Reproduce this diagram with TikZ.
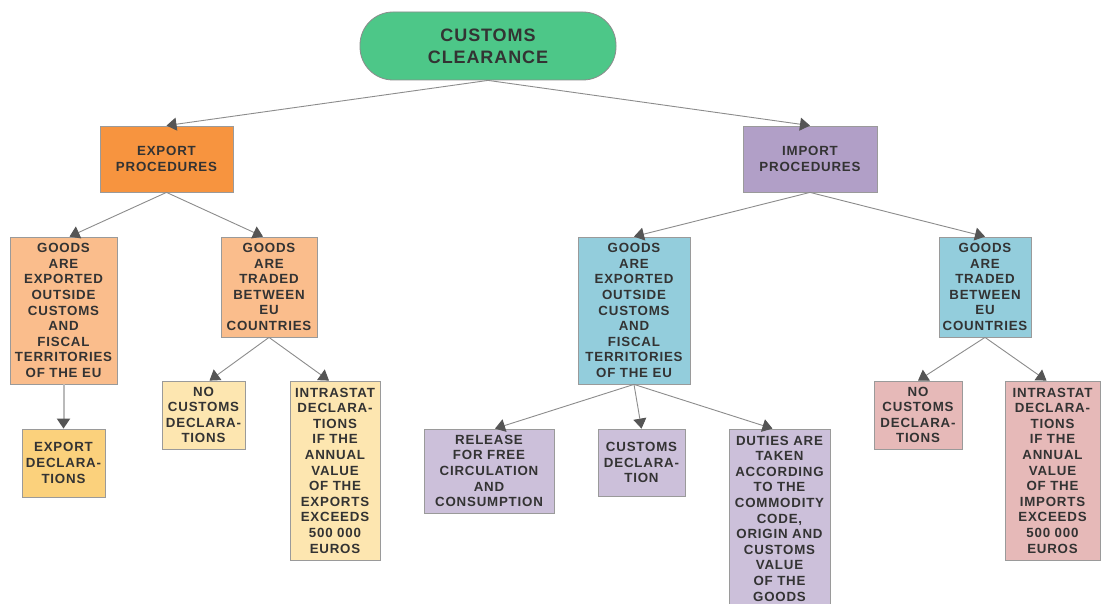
\documentclass[tikz,border=0pt]{standalone}
\usepackage{fontspec}
\setmainfont{Liberation Sans}
\usetikzlibrary{arrows.meta}
\definecolor{cRoot}{HTML}{4DC788}
\definecolor{cExp}{HTML}{F7943F}
\definecolor{cImp}{HTML}{B19FC7}
\definecolor{cE}{HTML}{FABD8C}
\definecolor{cEa}{HTML}{FBD17C}
\definecolor{cEb}{HTML}{FDE6B0}
\definecolor{cI}{HTML}{93CDDC}
\definecolor{cIa}{HTML}{CCC0DA}
\definecolor{cIb}{HTML}{E6B9B8}
\definecolor{txt}{HTML}{333333}
\definecolor{bord}{HTML}{9A9A9A}
\definecolor{linegray}{HTML}{8C8C8C}
\definecolor{tipgray}{HTML}{555555}
\begin{document}
\begin{tikzpicture}[x=1pt,y=-1pt,
  bx/.style={draw=bord, line width=0.8pt, align=center, inner sep=1pt, text=txt,
    font=\fontsize{13.3}{15.6}\selectfont\bfseries\addfontfeatures{LetterSpace=6}},
  arr/.style={draw=linegray, line width=0.9pt, -{Triangle[length=10pt,width=13pt,color=tipgray]}},
  varr/.style={draw=linegray!60, line width=2pt, -{Triangle[length=10pt,width=13pt,color=tipgray]}}
]
\clip (0,0) rectangle (1101,604);
\fill[white] (0,0) rectangle (1101,604);

\node[bx, draw=linegray, fill=cRoot, minimum width=256pt, minimum height=68pt, rounded corners=33pt,
  font=\fontsize{18}{22}\selectfont\bfseries\addfontfeatures{LetterSpace=5}] (root) at (488,46) {CUSTOMS\\CLEARANCE};

\node[bx, fill=cExp, minimum width=133pt, minimum height=66pt] (exp) at (166.5,159) {EXPORT\\PROCEDURES};
\node[bx, fill=cImp, minimum width=134pt, minimum height=66pt] (imp) at (810,159) {IMPORT\\PROCEDURES};

\node[bx, fill=cE, minimum width=107pt, minimum height=147pt] (E1) at (63.5,310.5)
  {GOODS\\ARE\\EXPORTED\\OUTSIDE\\CUSTOMS\\AND\\FISCAL\\TERRITORIES\\OF THE EU};
\node[bx, fill=cE, minimum width=96pt, minimum height=100pt] (E2) at (269,287)
  {GOODS\\ARE\\TRADED\\BETWEEN\\EU\\COUNTRIES};
\node[bx, fill=cEa, minimum width=83pt, minimum height=68pt] (E1a) at (63.5,463)
  {EXPORT\\DECLARA-\\TIONS};
\node[bx, fill=cEb, minimum width=83pt, minimum height=68pt] (E2a) at (203.5,415)
  {NO\\CUSTOMS\\DECLARA-\\TIONS};
\node[bx, fill=cEb, minimum width=90pt, minimum height=179pt] (E2b) at (335,470.5)
  {INTRASTAT\\DECLARA-\\TIONS\\IF THE\\ANNUAL\\VALUE\\OF THE\\EXPORTS\\EXCEEDS\\500 000\\EUROS};

\node[bx, fill=cI, minimum width=112pt, minimum height=147pt] (I1) at (634,310.5)
  {GOODS\\ARE\\EXPORTED\\OUTSIDE\\CUSTOMS\\AND\\FISCAL\\TERRITORIES\\OF THE EU};
\node[bx, fill=cI, minimum width=92pt, minimum height=100pt] (I2) at (985,287)
  {GOODS\\ARE\\TRADED\\BETWEEN\\EU\\COUNTRIES};
\node[bx, fill=cIa, minimum width=130pt, minimum height=84pt] (I1a) at (489,471)
  {RELEASE\\FOR FREE\\CIRCULATION\\AND\\CONSUMPTION};
\node[bx, fill=cIa, minimum width=87pt, minimum height=67pt] (I1b) at (641.5,462.5)
  {CUSTOMS\\DECLARA-\\TION};
\node[bx, fill=cIa, minimum width=101pt, minimum height=179pt] (I1c) at (779.5,518.5)
  {DUTIES ARE\\TAKEN\\ACCORDING\\TO THE\\COMMODITY\\CODE,\\ORIGIN AND\\CUSTOMS\\VALUE\\OF THE\\GOODS};
\node[bx, fill=cIb, minimum width=88pt, minimum height=68pt] (I2a) at (918,415)
  {NO\\CUSTOMS\\DECLARA-\\TIONS};
\node[bx, fill=cIb, minimum width=95pt, minimum height=179pt] (I2b) at (1052.5,470.5)
  {INTRASTAT\\DECLARA-\\TIONS\\IF THE\\ANNUAL\\VALUE\\OF THE\\IMPORTS\\EXCEEDS\\500 000\\EUROS};

\draw[arr] (root.south) -- (exp.north);
\draw[arr] (root.south) -- (imp.north);
\draw[arr] (exp.south) -- ([xshift=6pt]E1.north);
\draw[arr] (exp.south) -- ([xshift=-6pt]E2.north);
\draw[varr] (E1.south) -- (E1a.north);
\draw[arr] (E2.south) -- ([xshift=6pt]E2a.north);
\draw[arr] (E2.south) -- ([xshift=-6pt]E2b.north);
\draw[arr] (imp.south) -- (I1.north);
\draw[arr] (imp.south) -- (I2.north);
\draw[arr] (I1.south) -- ([xshift=6pt]I1a.north);
\draw[arr] (I1.south) -- (I1b.north);
\draw[arr] (I1.south) -- ([xshift=-7pt]I1c.north);
\draw[arr] (I2.south) -- (I2a.north);
\draw[arr] (I2.south) -- ([xshift=-6pt]I2b.north);
\end{tikzpicture}
\end{document}
